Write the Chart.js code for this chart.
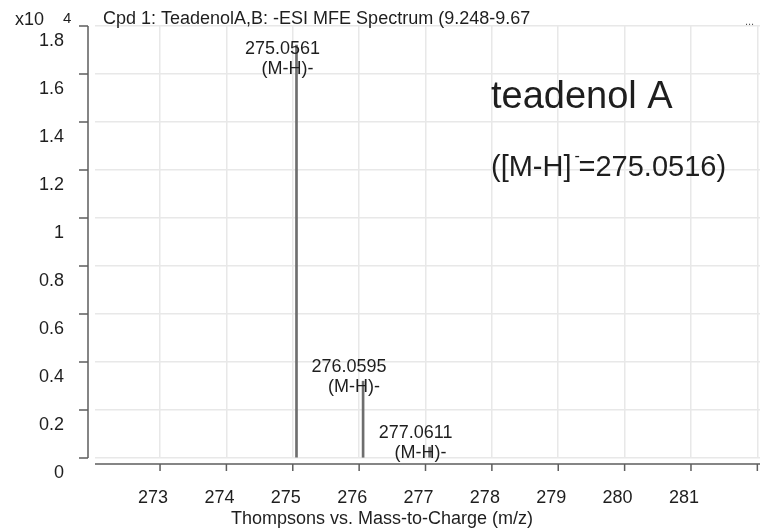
<!DOCTYPE html>
<html>
<head>
<meta charset="utf-8">
<script src="https://cdn.jsdelivr.net/npm/chart.js@4.4.1/dist/chart.umd.min.js"></script>
<style>
    html, body { margin: 0; padding: 0; background: #fff; }
    #wrap { width: 760px; height: 531px; position: relative; }
</style>
</head>
<body>
<div id="wrap"><canvas id="spectrum"></canvas></div>
<script>
// Peak list (m/z, abundance in x10^4 counts, ion label)
const peakMz = [275.0561, 276.0595, 277.0611];
const peakAbundance = [1.72, 0.32, 0.045];
const peakIon = ['(M-H)-', '(M-H)-', '(M-H)-'];

// Axis ticks
const xTicks = [273, 274, 275, 276, 277, 278, 279, 280, 281, 282];
const xTickLabels = ['273', '274', '275', '276', '277', '278', '279', '280', '281', ''];
const yTicks = [0, 0.2, 0.4, 0.6, 0.8, 1, 1.2, 1.4, 1.6, 1.8];
const yTickLabels = ['0', '0.2', '0.4', '0.6', '0.8', '1', '1.2', '1.4', '1.6', '1.8'];

const FONT = '"Liberation Sans", Arial, sans-serif';
const TEXT = '#1e1e1e';
const AXIS = '#5e5e5e';
const GRID = '#e8e8e8';

Chart.defaults.font.family = FONT;
Chart.defaults.color = TEXT;

// Axis lines sit a few pixels away from the plot area, with outside tick marks
const axisLines = {
    id: 'axisLines',
    afterDraw(chart) {
        const ctx = chart.ctx;
        const a = chart.chartArea;
        const xs = chart.scales.x;
        const ys = chart.scales.y;
        const yx = a.left - 7;
        const xy = a.bottom + 6;
        ctx.save();
        ctx.strokeStyle = AXIS;
        ctx.lineWidth = 1.5;
        ctx.beginPath();
        ctx.moveTo(yx, a.top);
        ctx.lineTo(yx, a.bottom);
        yTicks.forEach(v => {
            const py = ys.getPixelForValue(v);
            ctx.moveTo(yx - 9, py);
            ctx.lineTo(yx, py);
        });
        ctx.moveTo(a.left, xy);
        ctx.lineTo(a.right, xy);
        xTicks.forEach(v => {
            const px = xs.getPixelForValue(v);
            ctx.moveTo(px, xy);
            ctx.lineTo(px, xy + 7);
        });
        ctx.stroke();
        ctx.restore();
    }
};

// Titles, annotations and peak labels
const texts = {
    id: 'texts',
    afterDraw(chart) {
        const ctx = chart.ctx;
        const a = chart.chartArea;
        ctx.save();
        ctx.fillStyle = TEXT;
        ctx.textBaseline = 'alphabetic';
        ctx.textAlign = 'left';

        ctx.font = '18px ' + FONT;
        ctx.fillText('x10', 15, 25);
        ctx.font = '15px ' + FONT;
        ctx.fillText('4', 63, 23);

        ctx.font = '18px ' + FONT;
        ctx.fillText('Cpd 1: TeadenolA,B: -ESI MFE Spectrum (9.248-9.67', 103, 24);
        ctx.font = '11px ' + FONT;
        ctx.fillStyle = '#555';
        ctx.fillText('...', 745, 25);
        ctx.fillStyle = TEXT;

        ctx.font = '18px ' + FONT;
        ctx.textAlign = 'center';
        ctx.fillText('Thompsons vs. Mass-to-Charge (m/z)', 382, 524);

        // compound annotation
        ctx.textAlign = 'left';
        ctx.font = '38px ' + FONT;
        ctx.fillText('teadenol A', 491, 108);
        ctx.font = '29px ' + FONT;
        let x = 491;
        ctx.fillText('([M-H]', x, 176);
        x += ctx.measureText('([M-H]').width;
        ctx.font = '16px ' + FONT;
        ctx.fillText('-', x + 3, 161);
        ctx.font = '29px ' + FONT;
        ctx.fillText('=275.0516)', x + 7, 176);

        // peak labels
        ctx.font = '18px ' + FONT;
        ctx.textAlign = 'center';
        ctx.textBaseline = 'middle';
        const bars = chart.getDatasetMeta(0).data;
        bars.forEach((bar, i) => {
            let l1 = bar.y - 14;
            if (l1 < a.top + 23) l1 = a.top + 23;
            const l2 = l1 + 20;
            ctx.fillText(peakMz[i].toFixed(4), bar.x - 14, l1);
            ctx.fillText(peakIon[i], bar.x - 9, l2);
        });
        ctx.restore();
    }
};

new Chart(document.getElementById('spectrum'), {
    type: 'bar',
    data: {
        datasets: [{
            data: peakMz.map((mz, i) => ({ x: mz, y: peakAbundance[i] })),
            backgroundColor: '#6e6e6e',
            barThickness: 2
        }]
    },
    options: {
        responsive: true,
        maintainAspectRatio: false,
        animation: false,
        layout: { padding: { top: 26, right: 0, left: 0, bottom: 0 } },
        plugins: {
            legend: { display: false },
            tooltip: { enabled: false }
        },
        scales: {
            x: {
                type: 'linear',
                offset: false,
                min: 272.02,
                max: 282.04,
                afterBuildTicks: s => { s.ticks = xTicks.map(v => ({ value: v })); },
                afterFit: s => {
                    s.height = 73;
                    s.paddingLeft = 0;
                    s.paddingRight = 0;
                },
                grid: { color: GRID, lineWidth: 1.5, drawTicks: false, offset: false },
                border: { display: false },
                ticks: {
                    autoSkip: false,
                    maxRotation: 0,
                    padding: 29,
                    labelOffset: -7,
                    font: { size: 18 },
                    color: TEXT,
                    callback: (v, i) => xTickLabels[i]
                }
            },
            y: {
                min: 0,
                max: 1.8,
                afterBuildTicks: s => { s.ticks = yTicks.map(v => ({ value: v })); },
                afterFit: s => {
                    s.width = 95;
                    s.paddingTop = 0;
                    s.paddingBottom = 0;
                },
                grid: { color: GRID, lineWidth: 1.5, drawTicks: false },
                border: { display: false },
                ticks: {
                    padding: 31,
                    labelOffset: 15,
                    font: { size: 18 },
                    color: TEXT,
                    callback: (v, i) => yTickLabels[i]
                }
            }
        }
    },
    plugins: [axisLines, texts]
});
</script>
</body>
</html>
